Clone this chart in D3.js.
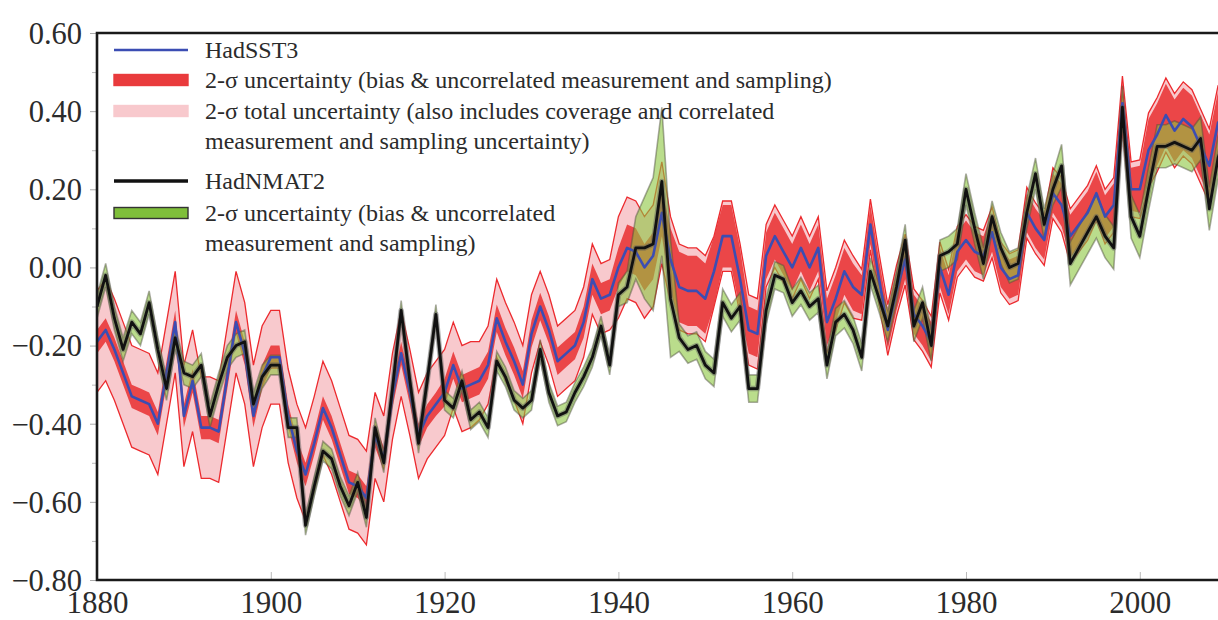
<!DOCTYPE html>
<html>
<head>
<meta charset="utf-8">
<script src="https://cdn.jsdelivr.net/npm/d3@7"></script>
<style>
  html, body { margin: 0; padding: 0; background: #fff; }
  svg { display: block; }
  text { font-family: "Liberation Serif", "DejaVu Serif", serif; fill: #2b2b2b; }
</style>
</head>
<body>
<svg id="chart" width="1218" height="620"></svg>
<script>
// Annual anomalies (°C), 1880–2010
const firstYear = 1880;
const hadsst3 = [
  -0.19,-0.16,-0.21,-0.27,-0.33,-0.34,-0.35,-0.40,-0.27,-0.14,
  -0.38,-0.29,-0.41,-0.41,-0.42,-0.28,-0.14,-0.22,-0.38,-0.28,
  -0.23,-0.23,-0.38,-0.47,-0.53,-0.45,-0.36,-0.41,-0.48,-0.55,
  -0.56,-0.59,-0.43,-0.49,-0.33,-0.22,-0.32,-0.43,-0.38,-0.35,
  -0.32,-0.25,-0.31,-0.30,-0.29,-0.25,-0.13,-0.19,-0.24,-0.30,
  -0.17,-0.10,-0.16,-0.24,-0.22,-0.20,-0.14,-0.03,-0.08,-0.07,
   0.00, 0.05, 0.04, 0.00, 0.03, 0.14, 0.02,-0.05,-0.06,-0.06,
  -0.08,-0.01, 0.08, 0.08,-0.03,-0.16,-0.17, 0.03, 0.08, 0.04,
   0.00, 0.05, 0.00, 0.05,-0.14,-0.08,-0.01,-0.05,-0.07, 0.11,
  -0.03,-0.16,-0.06, 0.02,-0.12,-0.15,-0.19, 0.00,-0.07, 0.04,
   0.07, 0.04, 0.03, 0.09, 0.00,-0.03,-0.02, 0.14, 0.10, 0.07,
   0.19, 0.16, 0.08, 0.11, 0.14, 0.19, 0.13, 0.16, 0.42, 0.20,
   0.20, 0.30, 0.34, 0.39, 0.35, 0.38, 0.36, 0.31, 0.26, 0.37,
   0.40
];
// half-width of the 2-sigma bias & uncorrelated measurement/sampling band
const hadsst3Err = [
  0.03,0.03,0.03,0.03,0.03,0.03,0.03,0.03,0.03,0.03,
  0.03,0.03,0.03,0.03,0.03,0.03,0.03,0.03,0.03,0.03,
  0.03,0.03,0.03,0.03,0.03,0.03,0.03,0.03,0.03,0.03,
  0.03,0.03,0.03,0.03,0.03,0.03,0.03,0.03,0.03,0.03,
  0.035,0.035,0.035,0.035,0.035,0.035,0.035,0.035,0.035,0.035,
  0.035,0.035,0.035,0.035,0.035,0.035,0.04,0.04,0.04,0.04,
  0.05,0.06,0.06,0.06,0.06,0.06,0.08,0.09,0.09,0.09,
  0.09,0.09,0.08,0.08,0.08,0.06,0.06,0.06,0.06,0.06,
  0.06,0.06,0.06,0.06,0.06,0.06,0.06,0.06,0.05,0.05,
  0.05,0.05,0.05,0.05,0.05,0.05,0.05,0.05,0.05,0.05,
  0.05,0.05,0.05,0.05,0.05,0.05,0.05,0.05,0.05,0.05,
  0.05,0.055,0.055,0.055,0.055,0.055,0.055,0.055,0.055,0.055,
  0.06,0.08,0.08,0.08,0.08,0.08,0.08,0.08,0.08,0.08,
  0.08
];
// half-width of the 2-sigma total uncertainty band
const hadsst3Total = [
  0.13,0.13,0.13,0.13,0.13,0.13,0.13,0.13,0.13,0.13,
  0.13,0.13,0.13,0.13,0.13,0.13,0.13,0.13,0.13,0.13,
  0.12,0.12,0.12,0.12,0.12,0.12,0.12,0.12,0.12,0.12,
  0.12,0.12,0.11,0.11,0.11,0.11,0.11,0.11,0.11,0.11,
  0.11,0.11,0.11,0.11,0.10,0.10,0.10,0.10,0.10,0.10,
  0.10,0.09,0.09,0.09,0.09,0.09,0.09,0.09,0.09,0.09,
  0.13,0.13,0.13,0.13,0.13,0.13,0.11,0.11,0.11,0.11,
  0.11,0.09,0.09,0.09,0.09,0.09,0.09,0.08,0.08,0.08,
  0.08,0.08,0.08,0.08,0.08,0.08,0.08,0.08,0.065,0.065,
  0.065,0.065,0.065,0.065,0.065,0.065,0.065,0.065,0.065,0.065,
  0.065,0.065,0.065,0.065,0.065,0.065,0.065,0.065,0.065,0.065,
  0.065,0.07,0.07,0.07,0.07,0.07,0.07,0.07,0.07,0.07,
  0.075,0.095,0.095,0.095,0.095,0.095,0.095,0.095,0.095,0.095,
  0.095
];
const hadnmat2 = [
  -0.10,-0.02,-0.13,-0.21,-0.14,-0.17,-0.09,-0.21,-0.31,-0.18,
  -0.27,-0.28,-0.25,-0.38,-0.30,-0.23,-0.20,-0.19,-0.35,-0.28,
  -0.25,-0.25,-0.41,-0.41,-0.66,-0.56,-0.47,-0.49,-0.56,-0.61,
  -0.55,-0.64,-0.41,-0.50,-0.31,-0.11,-0.29,-0.45,-0.29,-0.12,
  -0.34,-0.36,-0.29,-0.39,-0.37,-0.41,-0.24,-0.28,-0.34,-0.36,
  -0.34,-0.21,-0.32,-0.38,-0.37,-0.32,-0.28,-0.23,-0.15,-0.25,
  -0.07,-0.05, 0.05, 0.05, 0.06, 0.22,-0.08,-0.18,-0.21,-0.20,
  -0.25,-0.27,-0.09,-0.13,-0.10,-0.31,-0.31,-0.11,-0.02,-0.03,
  -0.09,-0.06,-0.10,-0.08,-0.25,-0.14,-0.12,-0.16,-0.23,-0.01,
  -0.08,-0.15,-0.05, 0.07,-0.15,-0.09,-0.20, 0.03, 0.04, 0.06,
   0.20, 0.10, 0.01, 0.13, 0.05, 0.00, 0.01, 0.14, 0.24, 0.11,
   0.20, 0.26, 0.01, 0.05, 0.09, 0.13, 0.08, 0.05, 0.41, 0.13,
   0.08, 0.20, 0.31, 0.31, 0.32, 0.31, 0.30, 0.33, 0.15, 0.28,
   0.35
];
// half-width of the 2-sigma bias & uncorrelated measurement/sampling band
const hadnmat2Err = [
  0.03,0.03,0.03,0.03,0.03,0.03,0.03,0.03,0.03,0.03,
  0.03,0.03,0.03,0.03,0.03,0.03,0.03,0.03,0.03,0.03,
  0.025,0.025,0.025,0.025,0.025,0.025,0.025,0.025,0.025,0.025,
  0.025,0.025,0.025,0.025,0.025,0.025,0.025,0.025,0.025,0.025,
  0.025,0.025,0.025,0.025,0.025,0.025,0.025,0.025,0.025,0.025,
  0.025,0.025,0.025,0.025,0.025,0.025,0.025,0.025,0.025,0.025,
  0.03,0.04,0.08,0.13,0.17,0.19,0.15,0.035,0.035,0.035,
  0.035,0.035,0.035,0.035,0.035,0.035,0.035,0.035,0.035,0.035,
  0.035,0.035,0.035,0.035,0.035,0.035,0.035,0.035,0.035,0.035,
  0.035,0.04,0.04,0.04,0.04,0.04,0.04,0.04,0.04,0.04,
  0.04,0.04,0.04,0.04,0.04,0.04,0.04,0.04,0.04,0.04,
  0.04,0.055,0.055,0.055,0.055,0.055,0.055,0.055,0.055,0.055,
  0.055,0.055,0.055,0.055,0.055,0.055,0.055,0.055,0.055,0.055,
  0.055
];
const yTickValues = [-0.8, -0.6, -0.4, -0.2, 0.0, 0.2, 0.4, 0.6];
const yMinorValues = [-0.7, -0.5, -0.3, -0.1, 0.1, 0.3, 0.5];
const xTickValues = [1880, 1900, 1920, 1940, 1960, 1980, 2000];

const legendItems = [
  { kind: "line", color: "#3b4db3", lines: ["HadSST3"] },
  { kind: "box", fill: "#e93b3d", stroke: "#e93b3d", lines: ["2-σ uncertainty (bias & uncorrelated measurement and sampling)"] },
  { kind: "box", fill: "#f8c9cd", stroke: "#f8c9cd", lines: ["2-σ total uncertainty (also includes coverage and correlated", "measurement and sampling uncertainty)"] },
  { kind: "line", color: "#111", lines: ["HadNMAT2"] },
  { kind: "box", fill: "#7fbf3a", stroke: "#333", lines: ["2-σ uncertainty (bias & uncorrelated", "measurement and sampling)"] }
];

(function draw() {
  const years = hadsst3.map((_, i) => firstYear + i);
  const sst = years.map((yr, i) => ({ yr, v: hadsst3[i], e: hadsst3Err[i], t: hadsst3Total[i] }));
  const nmat = years.map((yr, i) => ({ yr, v: hadnmat2[i], e: hadnmat2Err[i] }));

  const svg = d3.select("#chart");
  const pl = 97, pt = 33, pb = 580;
  const x = d3.scaleLinear().domain([1880, 2010]).range([pl, pl + 130 * 8.69]);
  const y = d3.scaleLinear().domain([-0.8, 0.6]).range([pb, pt]);

  const plot = svg.append("g");
  plot.append("clipPath").attr("id", "plotClip")
    .append("rect").attr("x", pl).attr("y", pt).attr("width", 1218 - pl).attr("height", pb - pt);
  const g = plot.append("g").attr("clip-path", "url(#plotClip)");

  const band = (lo, hi) => d3.area().x(d => x(d.yr)).y0(lo).y1(hi);
  const edge = (f) => d3.line().x(d => x(d.yr)).y(f);

  // total uncertainty (pink) with thin red edges
  g.append("path").datum(sst)
    .attr("d", band(d => y(d.v - d.t), d => y(d.v + d.t)))
    .attr("fill", "#f8c9cd");
  [d => y(d.v - d.t), d => y(d.v + d.t)].forEach(f => {
    g.append("path").datum(sst).attr("d", edge(f))
      .attr("fill", "none").attr("stroke", "#ec2a2e").attr("stroke-width", 1.3);
  });
  // bias & uncorrelated (red)
  g.append("path").datum(sst)
    .attr("d", band(d => y(d.v - d.e), d => y(d.v + d.e)))
    .attr("fill", "#e93b3d").attr("fill-opacity", 0.92);

  // HadNMAT2 uncertainty (green, translucent)
  g.append("path").datum(nmat)
    .attr("d", band(d => y(d.v - d.e), d => y(d.v + d.e)))
    .attr("fill", "#8cc640").attr("fill-opacity", 0.6)
    .attr("stroke", "#4a4a3a").attr("stroke-opacity", 0.45).attr("stroke-width", 1.6);

  // series lines
  g.append("path").datum(sst).attr("d", edge(d => y(d.v)))
    .attr("fill", "none").attr("stroke", "#3b4db3").attr("stroke-width", 2.6).attr("stroke-linejoin", "round");
  g.append("path").datum(nmat).attr("d", edge(d => y(d.v)))
    .attr("fill", "none").attr("stroke", "#5a5a5a").attr("stroke-opacity", 0.45).attr("stroke-width", 5.5).attr("stroke-linejoin", "round");
  g.append("path").datum(nmat).attr("d", edge(d => y(d.v)))
    .attr("fill", "none").attr("stroke", "#111").attr("stroke-width", 2.8).attr("stroke-linejoin", "round");

  // axes
  const yAxis = svg.append("g").attr("transform", `translate(${pl},0)`)
    .call(d3.axisLeft(y).tickValues(yTickValues).tickSize(7).tickPadding(8)
      .tickFormat(d => (d < 0 ? "\u2212" : "") + Math.abs(d).toFixed(2)));
  yAxis.select(".domain").remove();
  yAxis.selectAll(".tick line").attr("stroke", "#aaa");
  yAxis.selectAll("text").attr("font-size", 30.5).attr("dy", "0.34em");
  svg.append("g").attr("transform", `translate(${pl},0)`)
    .call(d3.axisLeft(y).tickValues(yMinorValues).tickSize(5).tickFormat(""))
    .call(a => { a.select(".domain").remove(); a.selectAll(".tick line").attr("stroke", "#bbb"); });

  const xAxis = svg.append("g").attr("transform", `translate(0,${pb})`)
    .call(d3.axisBottom(x).tickValues(xTickValues).tickSize(-8).tickPadding(11).tickFormat(d3.format("d")));
  xAxis.select(".domain").remove();
  xAxis.selectAll(".tick line").attr("stroke", "#bbb");
  xAxis.selectAll("text").attr("font-size", 31).attr("dy", "0.72em");

  // frame
  svg.append("path")
    .attr("d", `M1218,${pt}H${pl}V${pb}H1218`)
    .attr("fill", "none").attr("stroke", "#1a1a1a").attr("stroke-width", 2.6);

  // legend
  const legend = svg.append("g");
  const rowY = [50, 80, 111, 181, 213];
  legendItems.forEach((item, i) => {
    const cy = rowY[i];
    if (item.kind === "line") {
      legend.append("line").attr("x1", 114).attr("x2", 188).attr("y1", cy).attr("y2", cy)
        .attr("stroke", item.color).attr("stroke-width", item.color === "#111" ? 3.4 : 2.6);
    } else {
      legend.append("rect").attr("x", 114).attr("y", cy - 5.5).attr("width", 74).attr("height", 11)
        .attr("fill", item.fill).attr("stroke", item.stroke).attr("stroke-width", 1.4);
    }
    item.lines.forEach((t, j) => {
      legend.append("text").attr("x", 205).attr("y", cy + 8 + j * 29.5)
        .attr("font-size", 24).text(t);
    });
  });
})();
</script>
</body>
</html>
